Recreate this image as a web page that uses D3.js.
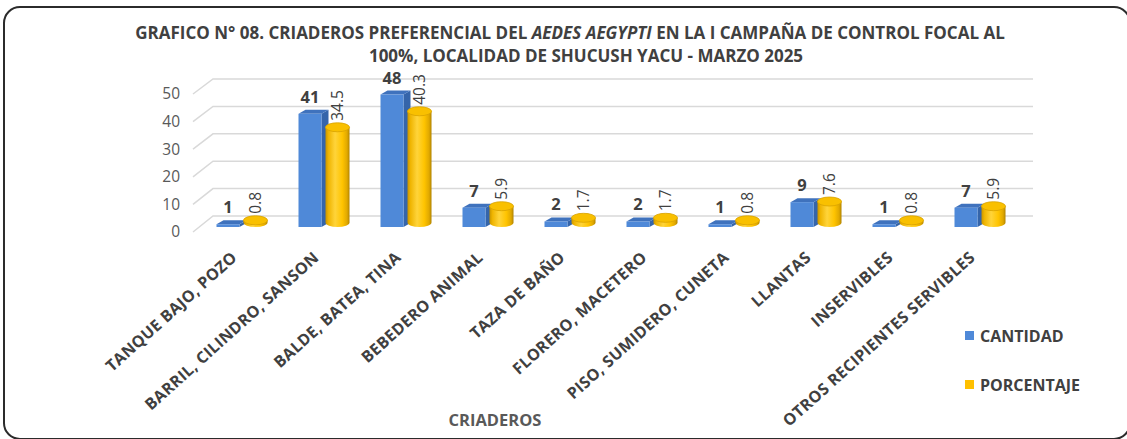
<!DOCTYPE html>
<html lang="es">
<head>
  <meta charset="UTF-8">
  <script src="https://d3js.org/d3.v7.min.js"></script>
  <style>
    body { margin: 0; background: #fff; }
    text { font-family: "Open Sans", Arial, sans-serif; }
  </style>
</head>
<body>
  <script>
    const categories = ["TANQUE BAJO, POZO", "BARRIL, CILINDRO, SANSON", "BALDE, BATEA, TINA",
      "BEBEDERO ANIMAL", "TAZA DE BAÑO", "FLORERO, MACETERO", "PISO, SUMIDERO, CUNETA",
      "LLANTAS", "INSERVIBLES", "OTROS RECIPIENTES SERVIBLES"];
    const cantidad = [1, 41, 48, 7, 2, 2, 1, 9, 1, 7];
    const porcentaje = [0.8, 34.5, 40.3, 5.9, 1.7, 1.7, 0.8, 7.6, 0.8, 5.9];
    const yTicks = [0, 10, 20, 30, 40, 50];
    const seriesNames = ["CANTIDAD", "PORCENTAJE"];

    const width = 1127, height = 439;
    const svg = d3.select("body").append("svg").attr("width", width).attr("height", height);

    // outer rounded frame
    svg.append("rect").attr("x", 4).attr("y", 7).attr("width", 1126).attr("height", 432)
      .attr("rx", 16).attr("fill", "none").attr("stroke", "#2b2b2b").attr("stroke-width", 2);

    // cylinder shading
    const defs = svg.append("defs");
    const cyl = defs.append("linearGradient").attr("id", "cyl").attr("x1", 0).attr("x2", 1).attr("y1", 0).attr("y2", 0);
    [[0, "#c79400"], [0.12, "#efb400"], [0.4, "#ffd43a"], [0.7, "#ffc400"], [0.9, "#e0a800"], [1, "#b08300"]]
      .forEach(([o, c]) => cyl.append("stop").attr("offset", o).attr("stop-color", c));

    // title
    const title = svg.append("text").attr("text-anchor", "middle").attr("font-weight", "bold")
      .attr("font-size", 17).attr("fill", "#404040");
    const l1 = title.append("tspan").attr("x", 570).attr("y", 39);
    l1.append("tspan").text("GRAFICO N° 08. CRIADEROS PREFERENCIAL DEL ");
    l1.append("tspan").attr("font-style", "italic").text("AEDES AEGYPTI");
    l1.append("tspan").text(" EN LA I CAMPAÑA DE CONTROL FOCAL AL");
    title.append("tspan").attr("x", 586).attr("y", 62).text("100%, LOCALIDAD DE SHUCUSH YACU - MARZO 2025");

    // scales: front plane, back wall, and bar depth
    const x = d3.scaleBand().domain(categories).range([196, 1016]);
    const yFront = d3.scaleLinear().domain([0, 50]).range([232, 94]);
    const yBack = d3.scaleLinear().domain([0, 50]).range([216, 79]);
    const yBar = d3.scaleLinear().domain([0, 50]).range([227, 89]);
    const wallDx = 20;
    const barDx = 5;

    // gridlines (left wall diagonal + back wall)
    const grid = svg.append("g").attr("stroke", "#d9d9d9").attr("stroke-width", 1.5).attr("fill", "none");
    yTicks.forEach(t => {
      const x0 = x.range()[0] - 3;
      grid.append("path").attr("d",
        `M${x0},${yFront(t)} L${x0 + wallDx},${yBack(t)} L${x.range()[1] + 17},${yBack(t)}`);
    });

    // y tick labels
    svg.append("g").selectAll("text").data(yTicks).join("text")
      .attr("x", 180).attr("y", d => yFront(d)).attr("dy", "0.35em")
      .attr("text-anchor", "end").attr("font-size", 15.5).attr("fill", "#595959")
      .text(d => d);

    const bw = 23, cw = 24, gap = 4;
    const pairW = bw + gap + cw;
    const bx = i => x(categories[i]) + (x.bandwidth() - pairW) / 2 + barDx;

    const bars = svg.append("g");
    categories.forEach((c, i) => {
      // blue 3D box
      const x0 = bx(i), yt = yBar(cantidad[i]), yb = yBar(0), dx = 7, dy = 4;
      bars.append("path").attr("fill", "#3565aa")
        .attr("d", `M${x0 + bw},${yt} L${x0 + bw + dx},${yt - dy} L${x0 + bw + dx},${yb - dy} L${x0 + bw},${yb}Z`);
      bars.append("path").attr("fill", "#3f72bd")
        .attr("d", `M${x0},${yt} L${x0 + dx},${yt - dy} L${x0 + bw + dx},${yt - dy} L${x0 + bw},${yt}Z`);
      bars.append("rect").attr("x", x0).attr("y", yt).attr("width", bw).attr("height", yb - yt)
        .attr("fill", "#4f89d8");

      // yellow cylinder
      const cx = x0 + bw + gap + cw / 2, r = cw / 2, ry = 4.5;
      const cb = yBar(0) - ry, ct = yBar(porcentaje[i]) - ry;
      bars.append("path").attr("fill", "url(#cyl)")
        .attr("d", `M${cx - r},${ct} L${cx - r},${cb} A${r},${ry} 0 0 0 ${cx + r},${cb} L${cx + r},${ct}Z`);
      bars.append("ellipse").attr("cx", cx).attr("cy", ct).attr("rx", r).attr("ry", ry)
        .attr("fill", "#f9c000").attr("stroke", "#d8a200").attr("stroke-width", 0.8);

      // labels
      bars.append("text").attr("x", x0 + bw / 2).attr("y", yt - 11)
        .attr("text-anchor", "middle").attr("font-weight", "bold").attr("font-size", 16.5)
        .attr("fill", "#404040").text(cantidad[i]);
      bars.append("text")
        .attr("transform", `translate(${cx + 5.5},${yBar(porcentaje[i]) - 11}) rotate(-90)`)
        .attr("font-size", 15.5).attr("fill", "#404040")
        .text(d3.format(".1f")(porcentaje[i]));
    });

    // category labels
    svg.append("g").selectAll("text").data(categories).join("text")
      .attr("transform", d => `translate(${x(d) + x.bandwidth() / 2 + 1},${259}) rotate(-42)`)
      .attr("text-anchor", "end").attr("font-weight", "bold").attr("font-size", 16)
      .attr("letter-spacing", 0.3).attr("fill", "#404040").text(d => d);

    svg.append("text").attr("x", 495).attr("y", 426).attr("text-anchor", "middle")
      .attr("font-weight", "bold").attr("font-size", 16.5).attr("fill", "#595959").text("CRIADEROS");

    // legend
    const legend = svg.append("g").selectAll("g").data(seriesNames).join("g")
      .attr("transform", (d, i) => `translate(965,${331 + i * 49})`);
    legend.append("rect").attr("width", 9).attr("height", 9)
      .attr("fill", (d, i) => i === 0 ? "#4f89d8" : "#ffc000");
    legend.append("text").attr("x", 15).attr("y", 5).attr("dy", "0.35em")
      .attr("font-weight", "bold").attr("font-size", 16).attr("fill", "#404040").text(d => d);
  </script>
</body>
</html>
